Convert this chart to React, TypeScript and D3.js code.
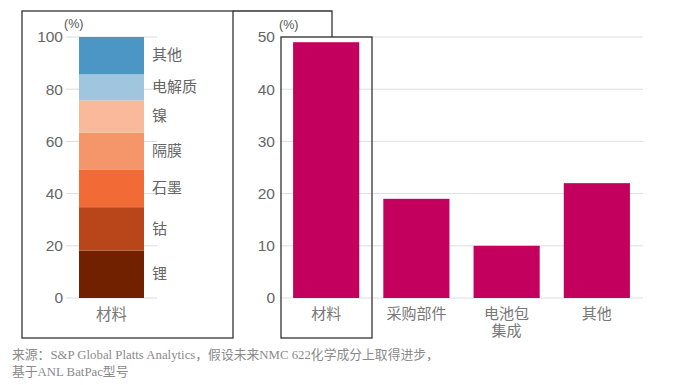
import React from 'react';
import * as d3 from 'd3';

// left: composition of material cost (stacked, %)
const materialParts = ['锂', '钴', '石墨', '隔膜', '镍', '电解质', '其他'];
const materialShares = [18.2, 16.6, 14.3, 14.2, 12.4, 10.0, 14.3];
const materialColors = ['#722100', '#b9461a', '#f26b36', '#f5956a', '#fab99a', '#a0c5de', '#4b96c4'];

// right: cost breakdown by category (%)
const costCategories = ['材料', '采购部件', '电池包集成', '其他'];
const costCategoryLabels = [['材料'], ['采购部件'], ['电池包', '集成'], ['其他']];
const costShares = [49, 19, 10, 22];

const leftTicks = [0, 20, 40, 60, 80, 100];
const rightTicks = [0, 10, 20, 30, 40, 50];

const footerLines = [
  '来源：S&P Global Platts Analytics，假设未来NMC 622化学成分上取得进步，',
  '基于ANL BatPac型号',
];

const W = 683;
const H = 385;
const top = 37;
const bottom = 298;

const sans = '"Liberation Sans", "Noto Sans CJK SC", sans-serif';
const cjk = '"Noto Sans CJK SC", sans-serif';

const App = () => {
  const yLeft = d3.scaleLinear().domain([0, 100]).range([bottom, top]);
  const xLeft = d3.scaleBand<string>().domain(['材料']).range([66, 157]).paddingInner(0).paddingOuter(0.2);

  const row: Record<string, number> = {};
  materialParts.forEach((p, i) => (row[p] = materialShares[i]));
  const stacked = d3.stack<Record<string, number>>().keys(materialParts)([row]);

  const yRight = d3.scaleLinear().domain([0, 50]).range([bottom, top]);
  const xRight = d3
    .scaleBand<string>()
    .domain(costCategories)
    .range([280, 643])
    .paddingInner(0.267)
    .paddingOuter(0.145);

  const bx = xLeft('材料') ?? 0;

  return (
    <svg width={W} height={H} style={{ position: 'absolute', left: 0, top: 0, background: '#fff' }}>
      {/* left panel gridlines */}
      {leftTicks.map((t) => (
        <g key={t}>
          <line x1={66} x2={157} y1={yLeft(t)} y2={yLeft(t)} stroke="#dcdcdc" strokeWidth={1} />
          <text x={63} y={yLeft(t)} dy="0.35em" textAnchor="end" fontFamily={sans} fontSize={15.5} fill="#666">
            {t}
          </text>
        </g>
      ))}
      <text x={64} y={28} fontFamily={sans} fontSize={12.5} fill="#555">(%)</text>
      {stacked.map((s, i) => {
        const d = s[0];
        const y0 = yLeft(d[1]);
        const y1 = yLeft(d[0]);
        return (
          <g key={s.key}>
            <rect x={bx} y={y0} width={xLeft.bandwidth()} height={y1 - y0} fill={materialColors[i]} />
            <text x={152} y={(y0 + y1) / 2} dy="0.32em" fontFamily={cjk} fontSize={15} fill="#666">
              {s.key}
            </text>
          </g>
        );
      })}
      <text x={bx + xLeft.bandwidth() / 2} y={320} textAnchor="middle" fontFamily={cjk} fontSize={15.5} fill="#777">
        材料
      </text>

      {/* right panel */}
      {rightTicks.map((t) => (
        <g key={t}>
          <line x1={280} x2={643} y1={yRight(t)} y2={yRight(t)} stroke="#dedede" strokeWidth={1} />
          <text x={275} y={yRight(t)} dy="0.35em" textAnchor="end" fontFamily={sans} fontSize={15.5} fill="#666">
            {t}
          </text>
        </g>
      ))}
      <text x={279} y={29} fontFamily={sans} fontSize={12.5} fill="#555">(%)</text>
      {costCategories.map((c, i) => {
        const x = xRight(c) ?? 0;
        return (
          <g key={c}>
            <rect x={x} y={yRight(costShares[i])} width={xRight.bandwidth()} height={bottom - yRight(costShares[i])} fill="#c4005f" />
            {costCategoryLabels[i].map((l, j) => (
              <text
                key={l}
                x={x + xRight.bandwidth() / 2}
                y={319 + j * 17}
                textAnchor="middle"
                fontFamily={cjk}
                fontSize={15}
                fill="#777"
              >
                {l}
              </text>
            ))}
          </g>
        );
      })}

      {/* frames */}
      <rect x={22} y={11} width={211} height={327} fill="none" stroke="#333" strokeWidth={1.3} />
      <polyline points="233,11 332,11 332,37" fill="none" stroke="#333" strokeWidth={1.3} />
      <rect x={281} y={37} width={91} height={301} fill="none" stroke="#333" strokeWidth={1.3} />

      {footerLines.map((l, i) => (
        <text
          key={i}
          x={12}
          y={359 + i * 17}
          fontFamily={'"Liberation Serif", "Noto Sans CJK SC", serif'}
          fontSize={12.8}
          fill="#8a8a8a"
        >
          {l}
        </text>
      ))}
    </svg>
  );
};

export default App;
